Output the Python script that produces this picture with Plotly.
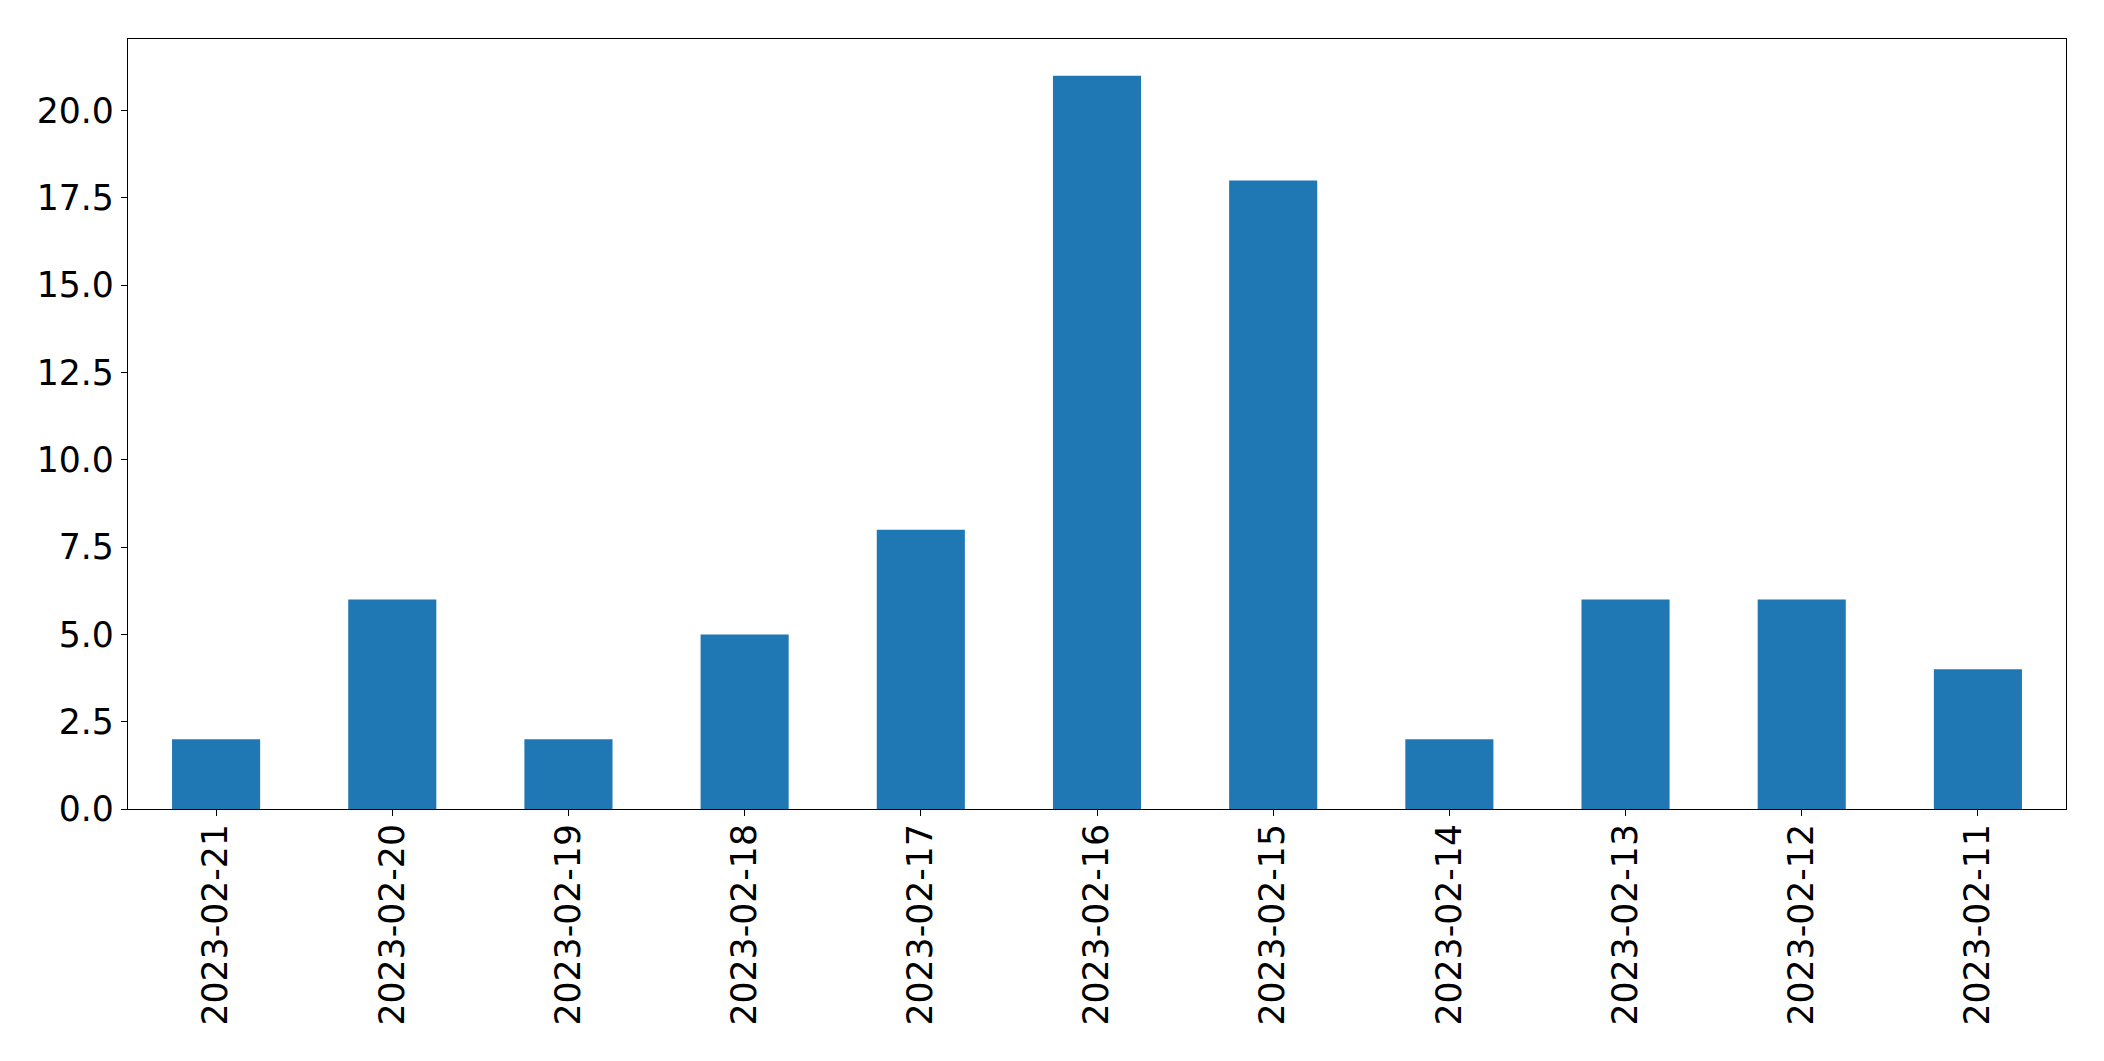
import plotly.graph_objects as go

categories = ["2023-02-21", "2023-02-20", "2023-02-19", "2023-02-18", "2023-02-17",
              "2023-02-16", "2023-02-15", "2023-02-14", "2023-02-13", "2023-02-12", "2023-02-11"]
values = [2, 6, 2, 5, 8, 21, 18, 2, 6, 6, 4]
y_ticks = [0, 2.5, 5, 7.5, 10, 12.5, 15, 17.5, 20]

fig = go.Figure(go.Bar(x=list(range(len(categories))), y=values, width=0.5,
                       marker=dict(color="#1f77b4", line=dict(width=0))))

font = dict(family="DejaVu Sans", size=34.7, color="black")
fig.update_layout(
    width=2104, height=1061, autosize=False,
    margin=dict(l=119.7, r=46.3, t=31.3, b=260, pad=0),
    plot_bgcolor="white", paper_bgcolor="white",
    showlegend=False, font=font,
)
fig.update_xaxes(
    range=[-0.5, len(categories) - 0.5],
    tickmode="array", tickvals=list(range(len(categories))), ticktext=categories,
    tickangle=-90, ticks="outside", ticklen=6, tickwidth=1.3, tickcolor="black",
    ticklabelstandoff=-6,
    showline=True, linecolor="black", linewidth=1.3, mirror=True,
    showgrid=False, zeroline=False, tickfont=font,
)
fig.update_yaxes(
    range=[0, 22.05], tickmode="array", tickvals=y_ticks,
    ticktext=[f"{v:.1f}" for v in y_ticks],
    ticks="outside", ticklen=6, tickwidth=1.3, tickcolor="black",
    showline=True, linecolor="black", linewidth=1.3, mirror=True,
    showgrid=False, zeroline=False, tickfont=font,
)
fig.write_html("out.html")
